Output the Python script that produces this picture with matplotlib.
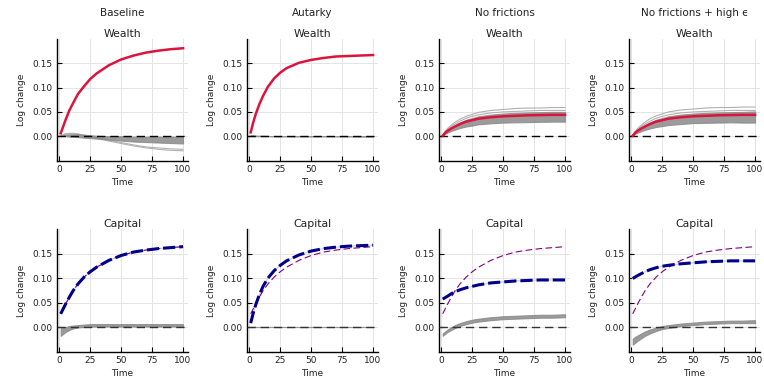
import numpy as np
import matplotlib
matplotlib.use("Agg")
import matplotlib.pyplot as plt

# time grid the values were read at
t = [1, 3, 5, 8, 11, 15, 20, 25, 30, 40, 50, 60, 70, 80, 90, 100]

scenarios = ["Baseline", "Autarky", "No frictions", "No frictions + high \u03f5"]

# ---- Wealth (top row): aggregate (red) + country band (grey) ----
wealth_agg = {
    "Baseline":     [0.006, 0.020, 0.034, 0.053, 0.068, 0.087, 0.103, 0.118, 0.129, 0.146, 0.158, 0.166, 0.172, 0.176, 0.179, 0.181],
    "Autarky":      [0.008, 0.028, 0.045, 0.066, 0.083, 0.102, 0.119, 0.131, 0.140, 0.151, 0.157, 0.161, 0.164, 0.165, 0.166, 0.167],
    "No frictions": [0.001, 0.007, 0.011, 0.016, 0.020, 0.025, 0.030, 0.033, 0.036, 0.039, 0.041, 0.042, 0.043, 0.0435, 0.044, 0.044],
    "No frictions + high \u03f5": [0.001, 0.007, 0.011, 0.016, 0.020, 0.025, 0.030, 0.033, 0.036, 0.039, 0.041, 0.042, 0.043, 0.0435, 0.044, 0.044],
}
wealth_band_hi = {
    "Baseline":     [0.001, 0.002, 0.003, 0.004, 0.004, 0.004, 0.003, 0.002, 0.001, 0.000, 0.000, -0.001, -0.001, -0.001, -0.001, -0.001],
    "Autarky":      [0.002, 0.002, 0.0015, 0.001, 0.001, 0.0005, 0.000, 0.000, 0.000, 0.000, 0.000, 0.000, 0.000, 0.000, 0.000, 0.000],
    "No frictions": [0.001, 0.008, 0.0125, 0.018, 0.023, 0.0285, 0.034, 0.0375, 0.041, 0.0445, 0.0467, 0.048, 0.049, 0.0496, 0.050, 0.050],
    "No frictions + high \u03f5": [0.001, 0.008, 0.0125, 0.018, 0.023, 0.0285, 0.034, 0.0375, 0.041, 0.0445, 0.0467, 0.048, 0.049, 0.0496, 0.050, 0.051],
}
wealth_band_lo = {
    "Baseline":     [0.000, 0.000, 0.000, -0.001, -0.001, -0.002, -0.003, -0.004, -0.005, -0.007, -0.009, -0.011, -0.012, -0.013, -0.014, -0.015],
    "Autarky":      [0.000, 0.000, 0.000, 0.000, 0.000, 0.000, 0.000, 0.000, 0.000, 0.000, 0.000, 0.000, 0.000, 0.000, -0.0005, -0.0005],
    "No frictions": [0.001, 0.005, 0.0075, 0.011, 0.0136, 0.017, 0.020, 0.022, 0.0245, 0.0265, 0.028, 0.0286, 0.029, 0.0296, 0.030, 0.030],
    "No frictions + high \u03f5": [0.001, 0.005, 0.0072, 0.0105, 0.013, 0.016, 0.019, 0.021, 0.023, 0.025, 0.027, 0.0275, 0.028, 0.0285, 0.028, 0.028],
}
wealth_outliers = {
    "Baseline": [
        [0.001, 0.003, 0.005, 0.006, 0.006, 0.005, 0.002, -0.001, -0.004, -0.010, -0.015, -0.020, -0.024, -0.027, -0.029, -0.030],
        [0.001, 0.003, 0.004, 0.005, 0.005, 0.004, 0.002, 0.000, -0.003, -0.008, -0.013, -0.018, -0.022, -0.024, -0.026, -0.027],
    ],
    "Autarky": [],
    "No frictions": [
        [0.001, 0.010, 0.016, 0.023, 0.029, 0.035, 0.041, 0.045, 0.049, 0.053, 0.055, 0.057, 0.058, 0.058, 0.059, 0.059],
        [0.001, 0.009, 0.014, 0.020, 0.025, 0.031, 0.037, 0.041, 0.044, 0.048, 0.050, 0.051, 0.052, 0.053, 0.053, 0.053],
    ],
    "No frictions + high \u03f5": [
        [0.001, 0.010, 0.016, 0.023, 0.029, 0.036, 0.042, 0.046, 0.050, 0.054, 0.056, 0.058, 0.059, 0.059, 0.060, 0.060],
        [0.001, 0.009, 0.014, 0.020, 0.025, 0.031, 0.037, 0.041, 0.044, 0.048, 0.050, 0.051, 0.052, 0.053, 0.053, 0.053],
    ],
}

# ---- Capital (bottom row): benchmark (purple), aggregate (navy), country band (grey) ----
capital_benchmark = [0.027, 0.037, 0.047, 0.061, 0.074, 0.088, 0.102, 0.113, 0.122, 0.136, 0.146, 0.153, 0.157, 0.160, 0.162, 0.164]
capital_agg = {
    "Baseline":     [0.027, 0.037, 0.047, 0.061, 0.074, 0.088, 0.102, 0.113, 0.122, 0.136, 0.146, 0.153, 0.157, 0.160, 0.162, 0.164],
    "Autarky":      [0.008, 0.028, 0.045, 0.066, 0.083, 0.100, 0.115, 0.126, 0.135, 0.147, 0.155, 0.160, 0.163, 0.165, 0.166, 0.167],
    "No frictions": [0.057, 0.060, 0.063, 0.068, 0.072, 0.076, 0.080, 0.083, 0.086, 0.090, 0.092, 0.094, 0.095, 0.096, 0.096, 0.096],
    "No frictions + high \u03f5": [0.099, 0.102, 0.105, 0.109, 0.113, 0.117, 0.121, 0.124, 0.126, 0.129, 0.131, 0.133, 0.134, 0.135, 0.135, 0.135],
}
capital_band_hi = {
    "Baseline":     [-0.002, -0.001, 0.000, 0.002, 0.003, 0.004, 0.005, 0.006, 0.006, 0.006, 0.006, 0.006, 0.006, 0.006, 0.006, 0.006],
    "Autarky":      [0.000] * 16,
    "No frictions": [-0.013, -0.009, -0.005, 0.000, 0.004, 0.008, 0.012, 0.015, 0.017, 0.020, 0.022, 0.023, 0.024, 0.025, 0.025, 0.026],
    "No frictions + high \u03f5": [-0.024, -0.020, -0.017, -0.013, -0.009, -0.005, -0.001, 0.002, 0.004, 0.007, 0.009, 0.011, 0.012, 0.013, 0.013, 0.014],
}
capital_band_lo = {
    "Baseline":     [-0.018, -0.014, -0.010, -0.006, -0.003, -0.001, 0.000, 0.001, 0.001, 0.001, 0.001, 0.001, 0.001, 0.001, 0.001, 0.001],
    "Autarky":      [0.000] * 16,
    "No frictions": [-0.018, -0.014, -0.010, -0.006, -0.002, 0.002, 0.006, 0.009, 0.011, 0.014, 0.016, 0.017, 0.018, 0.019, 0.019, 0.020],
    "No frictions + high \u03f5": [-0.036, -0.032, -0.028, -0.023, -0.018, -0.013, -0.008, -0.004, -0.002, 0.002, 0.004, 0.006, 0.007, 0.008, 0.008, 0.008],
}

yticks = [0.00, 0.05, 0.10, 0.15]
xticks = [0, 25, 50, 75, 100]

W, H = 764, 381
fig = plt.figure(figsize=(W / 100, H / 100), dpi=100)

col_left = [57, 247, 439, 629]
ax_w = 131
rows = [(39, 161), (229, 352)]  # (top, bottom) in pixels


def style_axes(ax, title):
    ax.set_xlim(-2, 104)
    ax.set_ylim(-0.051, 0.2)
    ax.set_xticks(xticks)
    ax.set_yticks(yticks)
    ax.set_yticklabels([f"{v:.2f}" for v in yticks])
    ax.grid(True, color="#e4e4e4", lw=0.7)
    ax.set_axisbelow(True)
    for s in ["top", "right"]:
        ax.spines[s].set_visible(False)
    for s in ["left", "bottom"]:
        ax.spines[s].set_linewidth(1.0)
    ax.tick_params(direction="in", length=3.5, width=0.8, labelsize=6.5, pad=3,
                   labelcolor="#222222")
    ax.set_xlabel("Time", fontsize=6.5, labelpad=3, color="#222222")
    ax.set_ylabel("Log change", fontsize=6.5, labelpad=5, color="#222222")
    ax.set_title(title, fontsize=7.8, pad=1.5, color="#222222")


for j, sc in enumerate(scenarios):
    x0 = col_left[j]
    # top row: wealth
    top, bot = rows[0]
    ax = fig.add_axes([x0 / W, 1 - bot / H, ax_w / W, (bot - top) / H])
    style_axes(ax, "Wealth")
    for line in wealth_outliers[sc]:
        ax.plot(t, line, color="#b0b0b0", lw=0.8, zorder=2)
    ax.fill_between(t, wealth_band_lo[sc], wealth_band_hi[sc], color="#8a8a8a", alpha=0.85, lw=0.8, zorder=2)
    ax.axhline(0, color="black", lw=1.0, dashes=(6, 3.5), zorder=3)
    ax.plot(t, wealth_agg[sc], color="#dc143c", lw=1.8, zorder=4)
    fig.text((x0 + ax_w / 2) / W, 1 - 13 / H, sc, ha="center", va="center", fontsize=7.5,
             color="#222222")

    # bottom row: capital
    top, bot = rows[1]
    ax = fig.add_axes([x0 / W, 1 - bot / H, ax_w / W, (bot - top) / H])
    style_axes(ax, "Capital")
    ax.fill_between(t, capital_band_lo[sc], capital_band_hi[sc], color="#8a8a8a", alpha=0.85, lw=0.8, zorder=2)
    ax.axhline(0, color="#333333", lw=1.0, dashes=(6, 3.5), zorder=3)
    ax.plot(t, capital_agg[sc], color="#cfcfcf", lw=0.9, zorder=3)
    ax.plot(t, capital_benchmark, color="#800080", lw=0.8, dashes=(6, 3), zorder=4)
    ax.plot(t, capital_agg[sc], color="#00008b", lw=2.2, dashes=(4, 1.3), zorder=5)

fig.savefig("out.png", dpi=100)
